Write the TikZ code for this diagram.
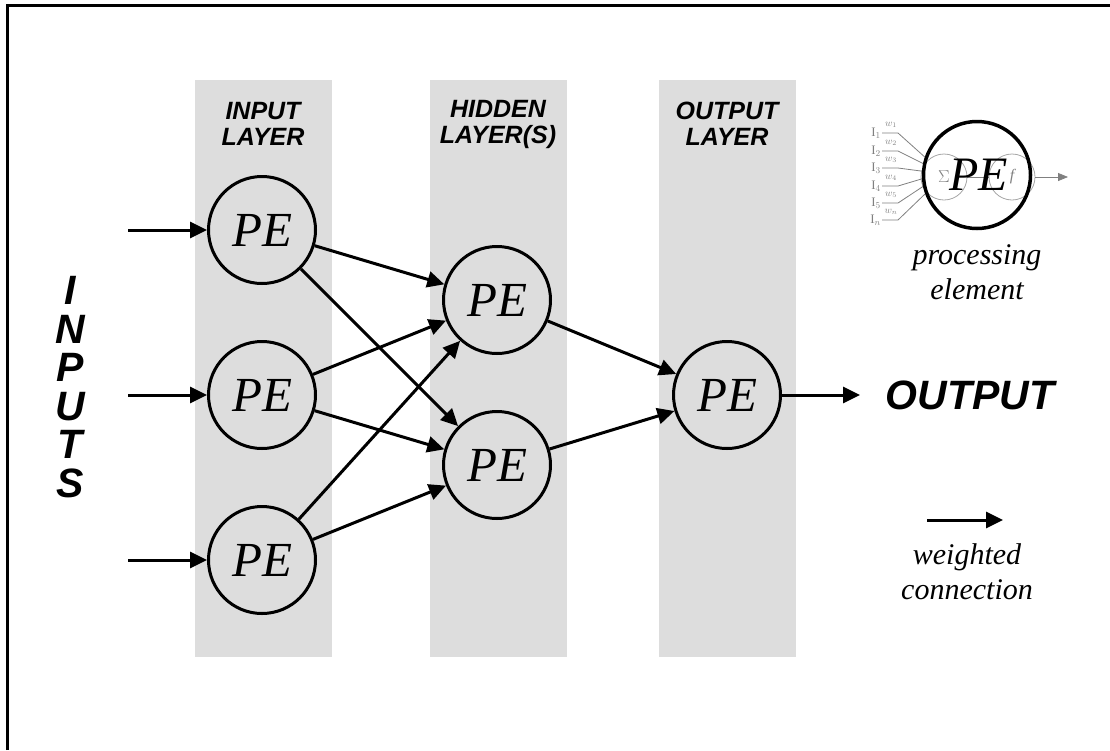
\documentclass[tikz,border=0pt]{standalone}
\usepackage{fontspec}
\setmainfont{Liberation Serif}
\setsansfont{Liberation Sans}
\usepackage{tikz}
\usetikzlibrary{arrows.meta,positioning}
\definecolor{layergray}{RGB}{221,221,221}

\begin{document}
\begin{tikzpicture}[x=1pt,y=-1pt]
\tikzstyle{pe} = [draw,circle,line width=3pt,minimum size=107pt,inner sep=0pt,font=\fontsize{49}{49}\selectfont\itshape,node distance=165pt,on grid]
\tikzstyle{conn} = [line width=3pt,-{Triangle[length=17pt,width=16pt]}]
\tikzstyle{layer} = [fill=layergray]
\tikzstyle{title} = [align=center,font=\fontsize{25}{26}\selectfont\sffamily\bfseries\itshape]
\tikzstyle{big} = [align=center,font=\fontsize{41}{38.5}\selectfont\sffamily\bfseries\itshape]
\tikzstyle{note} = [align=center,font=\fontsize{30}{35}\selectfont\itshape]
\tikzstyle{small} = [draw=gray!70,circle,line width=0.8pt,minimum size=46pt,inner sep=0pt,text=gray,font=\fontsize{16}{16}\selectfont]
\tikzstyle{tiny} = [text=gray,inner sep=1pt,font=\fontsize{13}{13}\selectfont]
\tikzstyle{wire} = [gray,line width=0.8pt]

\useasboundingbox (0,0) rectangle (1110,750);
\draw[line width=3pt] (7.5,750) -- (7.5,5.5) -- (1110,5.5);

% layers
\fill[layer] (195,80) rectangle (332,657);
\fill[layer] (430,80) rectangle (567,657);
\fill[layer] (659,80) rectangle (796,657);
\node[title] (tin) at (263,124) {INPUT\\LAYER};
\node[title] (thid) at (498,124) {HIDDEN\\LAYER(S)};
\node[title] (tout) at (727,124) {OUTPUT\\LAYER};

% network
\node[pe] (in1) at (262,230) {PE};
\node[pe,below=of in1] (in2) {PE};
\node[pe,below=of in2] (in3) {PE};
\node[pe] (h1) at (497,300) {PE};
\node[pe,below=of h1] (h2) {PE};
\node[pe] (out) at (727,395) {PE};

\foreach \i in {1,2,3} {
  \coordinate[on grid,left=134pt of in\i] (x\i);
  \draw[conn] (x\i) -- (in\i);
  \foreach \j in {1,2}
    \draw[conn] (in\i) -- (h\j);
}
\foreach \j in {1,2}
  \draw[conn] (h\j) -- (out);
\coordinate[on grid,right=133pt of out] (y1);
\draw[conn] (out) -- (y1);

\node[big] (intext) at (70,387) {I\\N\\P\\U\\T\\S};
\node[big] (outtext) at (970,395) {OUTPUT};

% processing element
\node[small] (sum) at (944,177) {$\Sigma$\hspace{12pt}};
\node[small] (act) at (1012,177) {\itshape f};
\draw[wire] (sum.east) -- (act.west);
\coordinate (z) at (1068,177);
\draw[wire,-{Triangle[length=10pt,width=8pt]}] (act) -- (z);
\node[draw,circle,line width=3.5pt,minimum size=107pt,inner sep=0pt,font=\fontsize{48}{48}\selectfont\itshape] (icon) at (977,175) {\hspace{3pt}PE};
\foreach \k/\yy/\lab/\ang in {1/133/1/161,2/151/2/168,3/168/3/176,4/186/4/184,5/203/5/192,6/220/n/200} {
  \node[tiny,anchor=east] (i\k) at (882,\yy) {I$_{\lab}$};
  \node[tiny,font=\fontsize{10}{10}\selectfont] (w\k) at (891,\yy-8) {$w_{\lab}$};
  \draw[wire] (i\k.east) -- ++(16,0) -- (icon.\ang);
}
\node[note] (pelabel) at (977,272) {processing\\element};

% weighted connection
\coordinate (c1) at (927,520);
\coordinate (c2) at (1003,520);
\draw[conn] (c1) -- (c2);
\node[note] (clabel) at (967,572) {weighted\\connection};
\end{tikzpicture}
\end{document}
